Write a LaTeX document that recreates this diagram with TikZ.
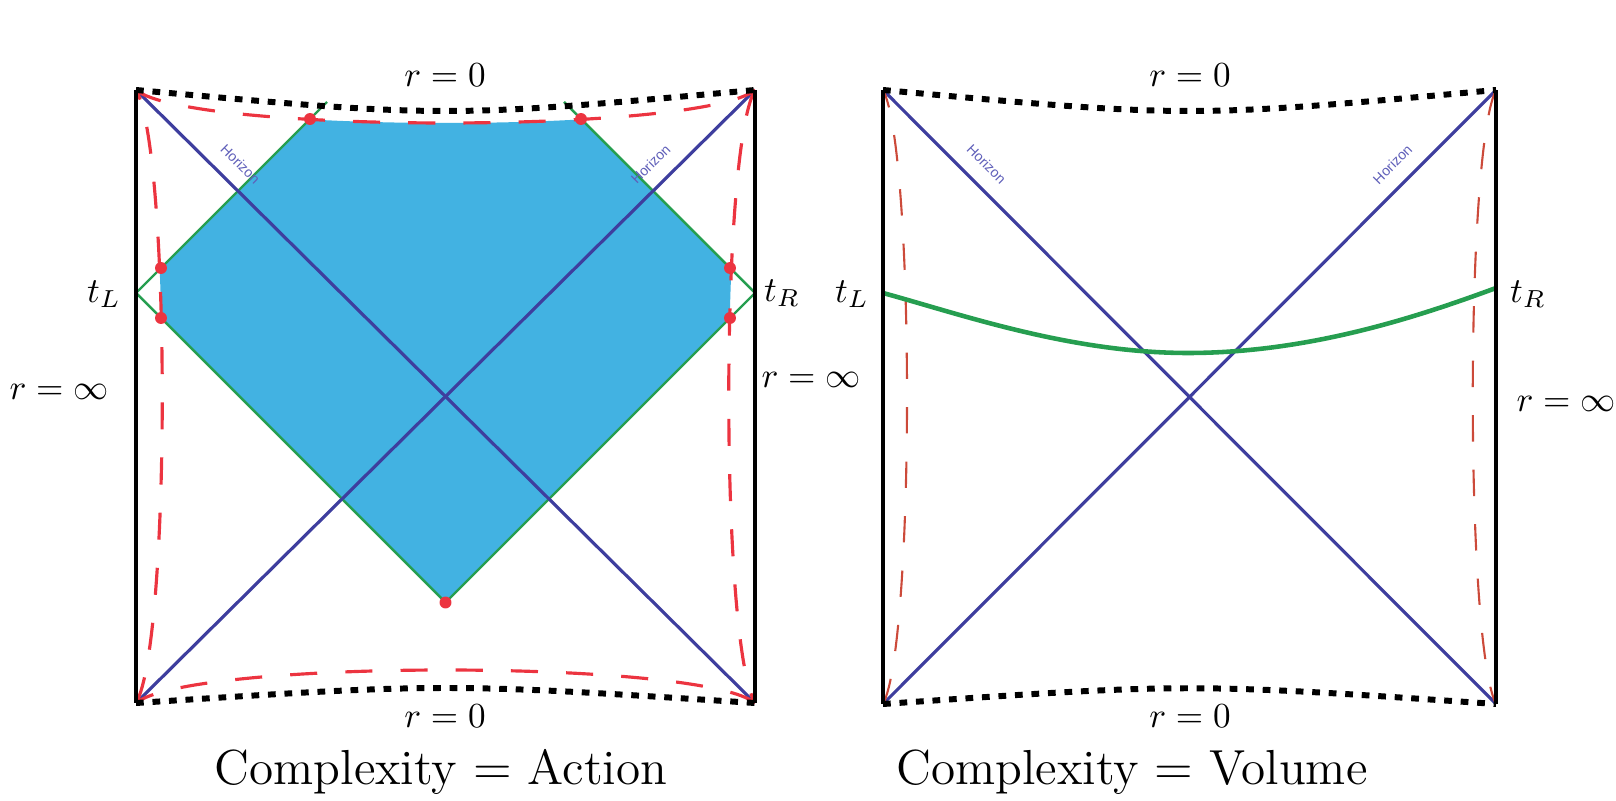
\documentclass[tikz,border=0pt]{standalone}
\usepackage{fontspec}
\newfontfamily\horfont{Liberation Sans}
\definecolor{wdw}{RGB}{66,178,226}
\definecolor{orizz}{RGB}{62,62,158}
\definecolor{orizztesto}{RGB}{95,95,185}
\definecolor{verde}{RGB}{38,158,80}
\definecolor{rosso}{RGB}{236,52,64}
\definecolor{rossoscuro}{RGB}{204,74,58}
\tikzset{
  bordo/.style={line width=0.9pt,black},
  singolarita/.style={line width=1.7pt,black,dash pattern=on 2.2pt off 2.5pt},
  taglio/.style={line width=0.9pt,rosso,dash pattern=on 7.7pt off 8pt},
  tagliob/.style={line width=0.6pt,rossoscuro,dash pattern=on 7.5pt off 8pt},
  orizzonte/.style={line width=0.9pt,orizz},
  etichetta/.style={sloped,above=3pt,inner sep=1pt,text=orizztesto,font=\horfont\fontsize{4}{5}\selectfont},
  nullo/.style={line width=0.7pt,verde},
  titolo/.style={font=\fontsize{14}{17}\selectfont}
}
\begin{document}
\begin{tikzpicture}[x=0.01cm,y=-0.01cm]
    \useasboundingbox (0,0) rectangle (1616,801);
    % Vertici
    \coordinate (TLa) at (136,90);
    \coordinate (TRa) at (755,90);
    \coordinate (BLa) at (136,703);
    \coordinate (BRa) at (755,703);
    \coordinate (tLa) at (136,293);
    \coordinate (tRa) at (755,293);
    \coordinate (Ba) at (445.5,602.5);
    \coordinate (Na) at (327,102);
    \coordinate (Ma) at (564,102);
    \coordinate (TLb) at (883,90);
    \coordinate (TRb) at (1496,90);
    \coordinate (BLb) at (883,704);
    \coordinate (BRb) at (1496,704);
    \coordinate (tLb) at (883,293);
    \coordinate (tRb) at (1496,288);
    % Patch WdW
    \begin{scope}
        \clip (TLa) .. controls (190,134) and (701,134) .. (TRa)
              .. controls (720,150) and (720,643) .. (BRa)
              .. controls (701,659) and (190,659) .. (BLa)
              .. controls (171,643) and (171,150) .. (TLa) -- cycle;
        \fill[wdw] (tLa) -- (445.5,-16.5) -- (tRa) -- (Ba) -- cycle;
    \end{scope}
    \draw[nullo] (tLa) -- (Na);
    \draw[nullo] (tRa) -- (Ma);
    \draw[nullo] (tLa) -- (Ba) -- (tRa);
    % Orizzonti
    \draw[orizzonte] (TLa) -- node[etichetta,pos=0.145] (horA) {Horizon} (BRa);
    \draw[orizzonte] (BLa) -- node[etichetta,pos=0.855] (horB) {Horizon} (TRa);
    \draw[orizzonte] (TLb) -- node[etichetta,pos=0.145] (horC) {Horizon} (BRb);
    \draw[orizzonte] (BLb) -- node[etichetta,pos=0.855] (horD) {Horizon} (TRb);
    % Tagli
    \draw[taglio] (TLa) .. controls (190,134) and (701,134) .. (TRa);
    \draw[taglio] (TRa) .. controls (720,150) and (720,643) .. (BRa);
    \draw[taglio] (BRa) .. controls (701,659) and (190,659) .. (BLa);
    \draw[taglio] (BLa) .. controls (171,643) and (171,150) .. (TLa);
    \draw[tagliob] (BLb) .. controls (915,644) and (915,150) .. (TLb);
    \draw[tagliob] (TRb) .. controls (1465,150) and (1465,644) .. (BRb);
    % Superficie massimale
    \draw[verde,line width=1.3pt] (tLb) .. controls (960,314) and (1070,353) .. (1188,353)
        .. controls (1310,353) and (1420,316) .. (tRb);
    % Singolarita
    \draw[singolarita] (TLa) .. controls (445.5,118) .. (TRa);
    \draw[singolarita] (BLa) .. controls (445.5,683) .. (BRa);
    \draw[singolarita] (TLb) .. controls (1189.5,118) .. (TRb);
    \draw[singolarita] (BLb) .. controls (1189.5,683) .. (BRb);
    % Bordi
    \draw[bordo] (TLa) -- (BLa);
    \draw[bordo] (TRa) -- (BRa);
    \draw[bordo] (TLb) -- (BLb);
    \draw[bordo] (TRb) -- (BRb);
    % Punti
    \fill[rosso] (161,268) circle (1.7pt);
    \fill[rosso] (161,318) circle (1.7pt);
    \fill[rosso] (730,268) circle (1.7pt);
    \fill[rosso] (730,318) circle (1.7pt);
    \fill[rosso] (310,119) circle (1.7pt);
    \fill[rosso] (581,119) circle (1.7pt);
    \fill[rosso] (Ba) circle (1.7pt);
    % Etichette
    \node (r0a) at (445,75) {$r=0$};
    \node (r0b) at (445,716) {$r=0$};
    \node (tLlab) at (104,294) {$t_L$};
    \node (tRlab) at (782,293) {$t_R$};
    \node (rinfa) at (59,392) {$r=\infty$};
    \node[titolo] (ca) at (441,772) {Complexity $=$ Action};
    \node (r0c) at (1190,75) {$r=0$};
    \node (r0d) at (1190,716) {$r=0$};
    \node (tLlabb) at (852,294) {$t_L$};
    \node (tRlabb) at (1528,294) {$t_R$};
    \node (rinfb) at (811,380) {$r=\infty$};
    \node (rinfc) at (1566,404) {$r=\infty$};
    \node[titolo] (cv) at (1132,772) {Complexity $=$ Volume};
\end{tikzpicture}
\end{document}
